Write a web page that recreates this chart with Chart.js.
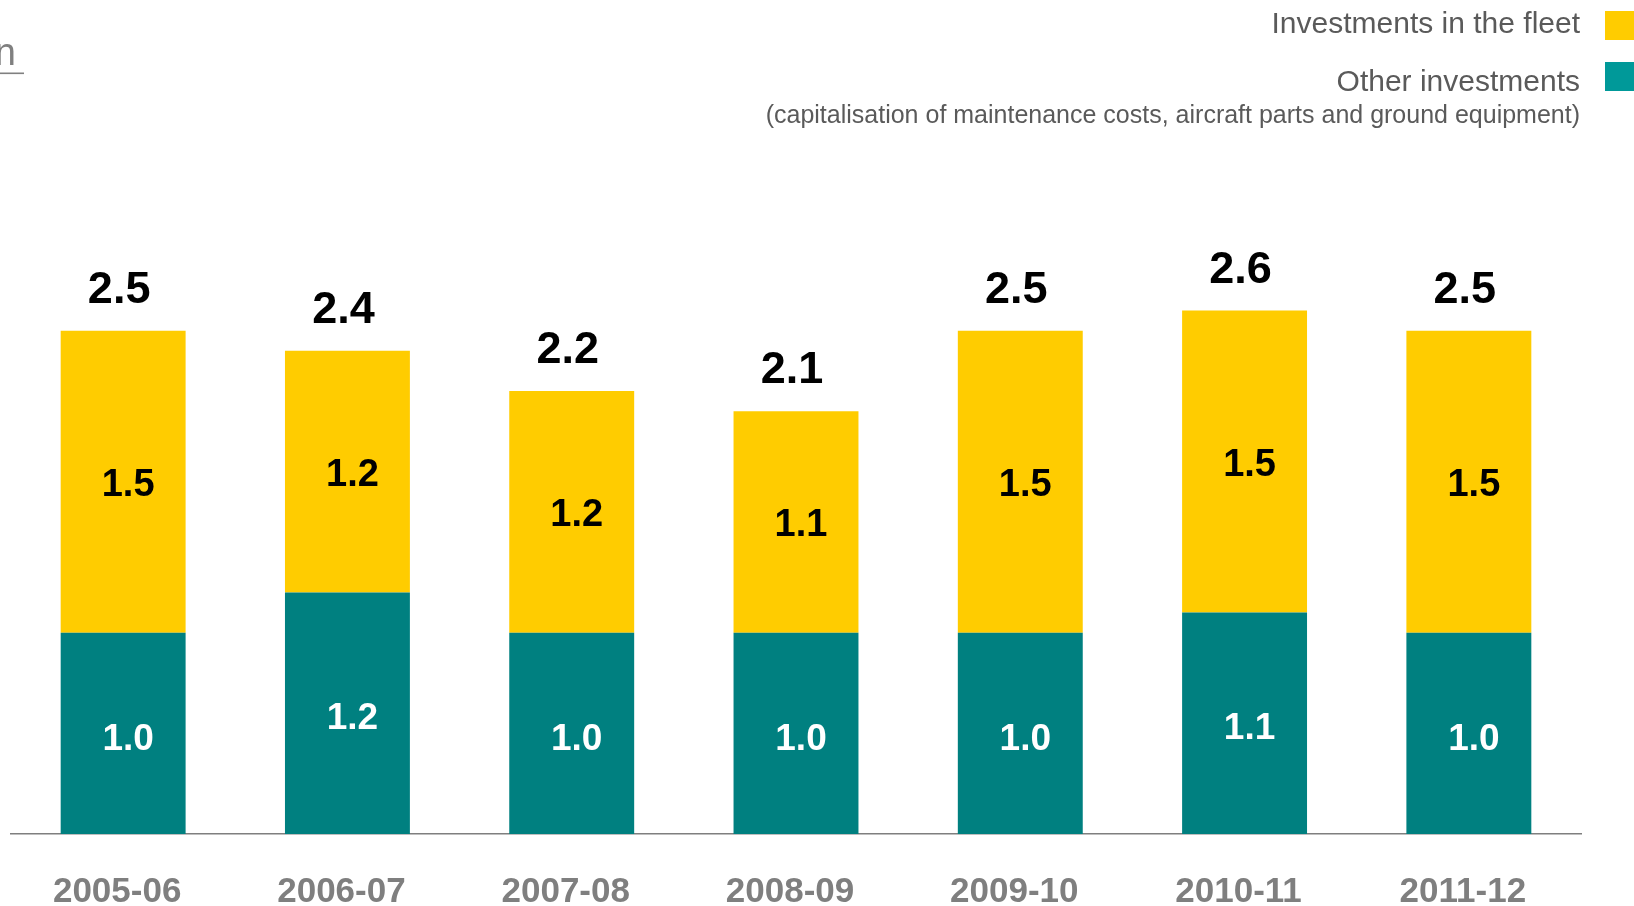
<!DOCTYPE html>
<html>
<head>
<meta charset="utf-8">
<script src="https://cdn.jsdelivr.net/npm/chart.js@4.4.1/dist/chart.umd.min.js"></script>
<style>
  html, body { margin: 0; padding: 0; background: #ffffff; }
  #wrap { width: 1634px; height: 906px; position: relative; }
</style>
</head>
<body>
<div id="wrap"><canvas id="chart" width="1634" height="906"></canvas></div>
<script>
// Fiscal years
const categories = ['2005-06', '2006-07', '2007-08', '2008-09', '2009-10', '2010-11', '2011-12'];
// Other investments (capitalisation of maintenance costs, aircraft parts and ground equipment)
const otherInvestments = [1.0, 1.2, 1.0, 1.0, 1.0, 1.1, 1.0];
// Investments in the fleet
const fleetInvestments = [1.5, 1.2, 1.2, 1.1, 1.5, 1.5, 1.5];

const seriesNames = ['Other investments', 'Investments in the fleet'];
const legendNote = '(capitalisation of maintenance costs, aircraft parts and ground equipment)';
const unitText = 'n';

const FONT = '"Liberation Sans", Arial, Helvetica, sans-serif';
const TEAL = '#008080';
const TEAL_KEY = '#009999';
const YELLOW = '#FFCC00';
const GREY_TEXT = '#5a5a5a';

// Value labels: segment values inside the bars, totals above each stack
const valueLabels = {
  id: 'valueLabels',
  afterDatasetsDraw(chart) {
    const ctx = chart.ctx;
    const metaOther = chart.getDatasetMeta(0);
    const metaFleet = chart.getDatasetMeta(1);
    ctx.save();
    ctx.textAlign = 'center';
    ctx.textBaseline = 'middle';
    metaOther.data.forEach((bar, i) => {
      const v = chart.data.datasets[0].data[i];
      ctx.font = 'bold 37px ' + FONT;
      ctx.fillStyle = '#ffffff';
      ctx.fillText(v.toFixed(1), bar.x + 5, (bar.y + bar.base) / 2 + 6);
    });
    metaFleet.data.forEach((bar, i) => {
      const v = chart.data.datasets[1].data[i];
      ctx.font = 'bold 38px ' + FONT;
      ctx.fillStyle = '#000000';
      ctx.fillText(v.toFixed(1), bar.x + 5, (bar.y + bar.base) / 2 + 4);
      const total = chart.data.datasets[0].data[i] + v;
      ctx.font = 'bold 45px ' + FONT;
      ctx.textBaseline = 'alphabetic';
      ctx.fillText(total.toFixed(1), bar.x - 4, bar.y - 28);
      ctx.textBaseline = 'middle';
    });
    ctx.restore();
  }
};

// Legend at top right (text right-aligned, key square at the edge) and the unit mark at top left
const sideLegend = {
  id: 'sideLegend',
  afterDraw(chart) {
    const ctx = chart.ctx;
    ctx.save();
    ctx.textAlign = 'right';
    ctx.textBaseline = 'middle';
    ctx.fillStyle = GREY_TEXT;
    ctx.font = '30px ' + FONT;
    ctx.fillText(seriesNames[1], 1580, 25);
    ctx.fillText(seriesNames[0], 1580, 83);
    ctx.font = '25px ' + FONT;
    ctx.fillText(legendNote, 1580, 116);
    ctx.fillStyle = YELLOW;
    ctx.fillRect(1605, 11, 40, 29);
    ctx.fillStyle = TEAL_KEY;
    ctx.fillRect(1605, 62, 40, 29);

    ctx.fillStyle = '#808080';
    ctx.font = '38px ' + FONT;
    ctx.textAlign = 'right';
    ctx.textBaseline = 'alphabetic';
    ctx.fillText(unitText, 16, 65);
    ctx.fillRect(0, 72.5, 24, 1.6);
    ctx.restore();
  }
};

new Chart(document.getElementById('chart'), {
  type: 'bar',
  data: {
    labels: categories,
    datasets: [
      { label: seriesNames[0], data: otherInvestments, backgroundColor: TEAL, borderWidth: 0 },
      { label: seriesNames[1], data: fleetInvestments, backgroundColor: YELLOW, borderWidth: 0 }
    ]
  },
  options: {
    responsive: false,
    animation: false,
    devicePixelRatio: 1,
    layout: { padding: { top: 230, left: 11, right: 53, bottom: 0 } },
    plugins: { legend: { display: false }, tooltip: { enabled: false } },
    datasets: { bar: { categoryPercentage: 1, barPercentage: 0.557 } },
    scales: {
      x: {
        stacked: true,
        grid: { display: true, drawOnChartArea: false, drawTicks: false },
        border: { display: true, color: '#7f7f7f', width: 1.5 },
        ticks: {
          padding: 37,
          labelOffset: -6,
          color: '#7f7f7f',
          font: { family: FONT, size: 35, weight: 'bold' }
        },
        afterFit(scale) { scale.height = 72; }
      },
      y: {
        stacked: true,
        display: false,
        min: 0,
        max: 3
      }
    }
  },
  plugins: [valueLabels, sideLegend]
});
</script>
</body>
</html>
